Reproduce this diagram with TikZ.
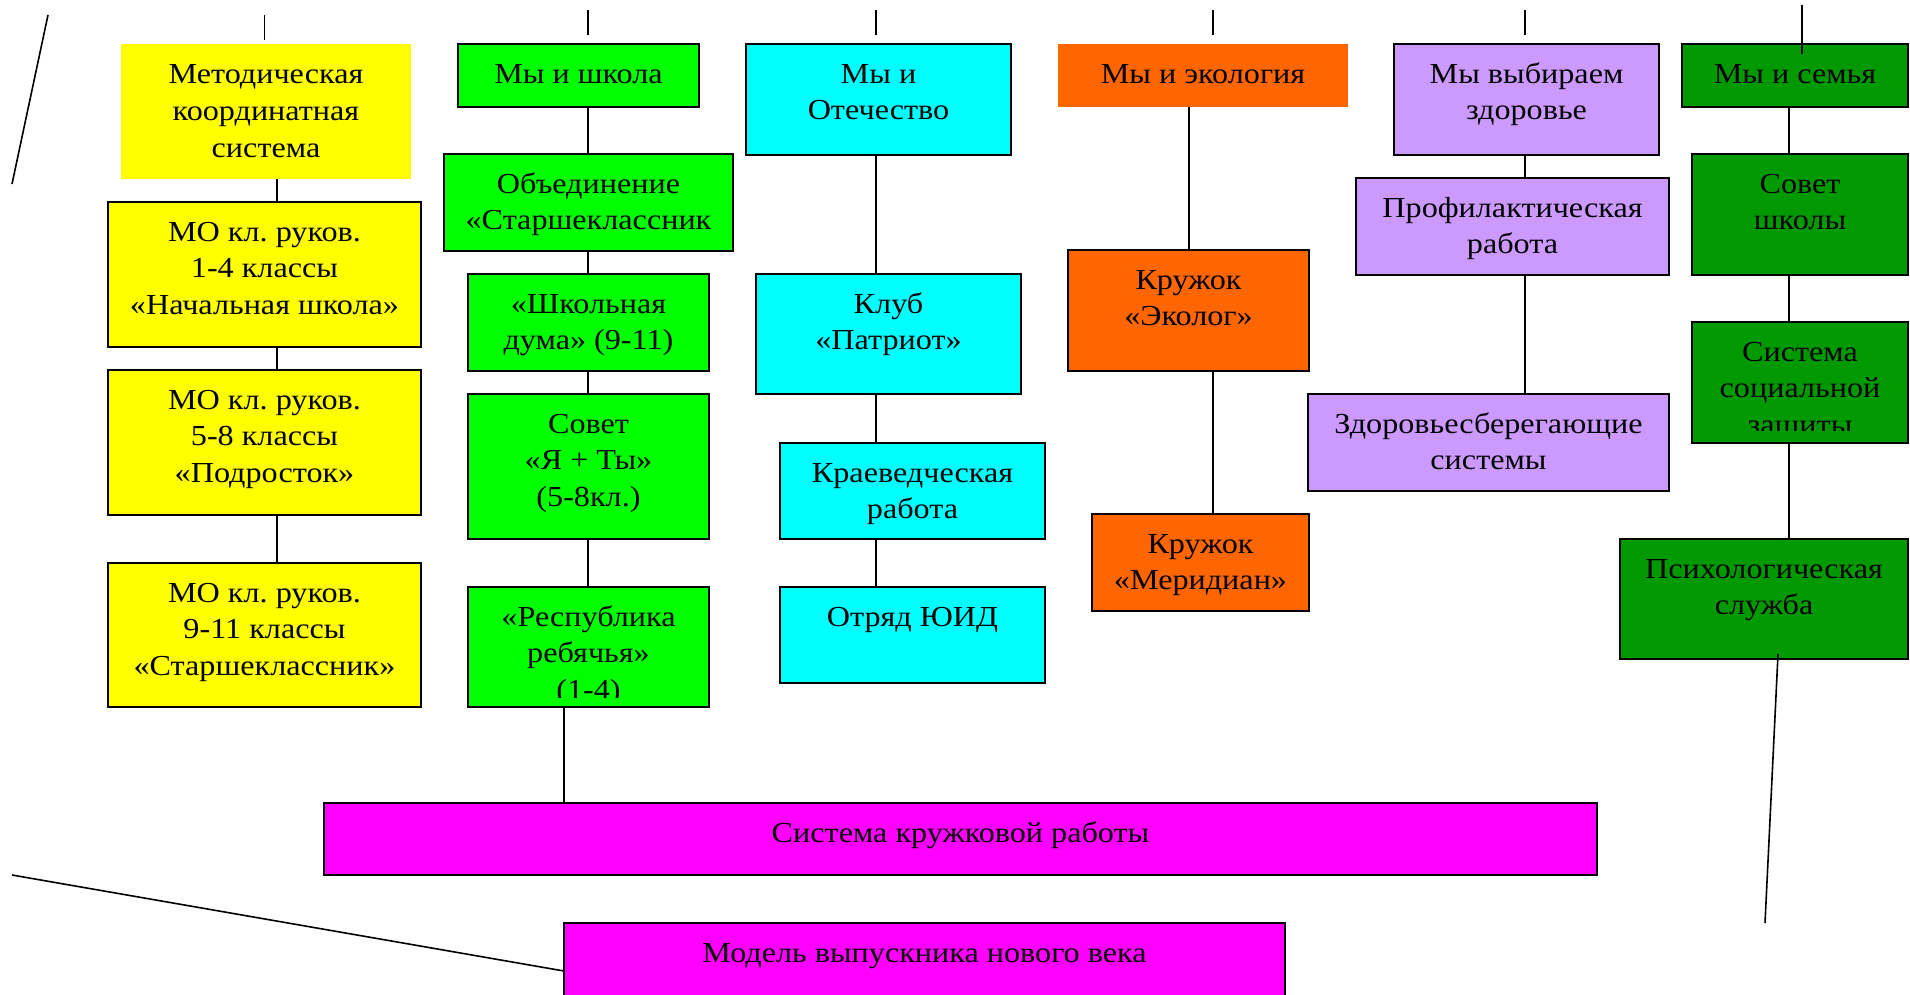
\documentclass[tikz,border=0pt]{standalone}
\usepackage{fontspec}
\setmainfont{Liberation Serif}[FakeStretch=1.11]
\frenchspacing
\definecolor{cyel}{HTML}{FFFF00}
\definecolor{cgrn}{HTML}{00FF00}
\definecolor{ccya}{HTML}{00FFFF}
\definecolor{cora}{HTML}{FF6600}
\definecolor{clav}{HTML}{CC99FF}
\definecolor{cdgr}{HTML}{009900}
\definecolor{cmag}{HTML}{FF00FF}
\tikzset{
  boxb/.style={draw=black, line width=2pt, rectangle, inner sep=0pt},
  boxn/.style={draw=none, rectangle, inner sep=0pt},
  yel/.style={boxb, fill=cyel}, yeln/.style={boxn, fill=cyel},
  grn/.style={boxb, fill=cgrn},
  cya/.style={boxb, fill=ccya},
  ora/.style={boxb, fill=cora}, oran/.style={boxn, fill=cora},
  lav/.style={boxb, fill=clav},
  dgr/.style={boxb, fill=cdgr},
  mag/.style={boxb, fill=cmag},
  txt/.style={font=\fontsize{29}{36.7}\selectfont\frenchspacing, align=center, inner sep=0pt, text=black},
  ln/.style={draw=black, line width=1.6pt}
}
% #1 name, #2 style, #3 x1, #4 y1, #5 x2, #6 y2, #7 text
\newcommand\bxnode[7]{%
  \node[#2, minimum width={(#5-#3)*1pt}, minimum height={(#6-#4)*1pt}] (#1) at ({(#3+#5)/2},{(#4+#6)/2}) {};
  \node[txt, anchor=north] (#1t) at ([yshift=-14.3pt]#1.north) {\strut #7};
}
% same, text clipped at y = #8
\newcommand\bxclip[8]{%
  \node[#2, minimum width={(#5-#3)*1pt}, minimum height={(#6-#4)*1pt}] (#1) at ({(#3+#5)/2},{(#4+#6)/2}) {};
  \begin{scope}
    \clip (#3,#4) rectangle (#5,#8);
    \node[txt, anchor=north] (#1t) at ([yshift=-14.3pt]#1.north) {\strut #7};
  \end{scope}
}
\begin{document}
\begin{tikzpicture}[x=1pt,y=-1pt]
\useasboundingbox (0,0) rectangle (1910,994);
\clip (0,0) rectangle (1910,994);

% column 1 (yellow)
\bxnode{b1}{yeln}{121}{44}{411}{179}{Методическая\\координатная\\система}
\bxnode{b2}{yel}{108}{202}{421}{347}{МО кл. руков.\\1-4 классы\\«Начальная школа»}
\bxnode{b3}{yel}{108}{370}{421}{515}{МО кл. руков.\\5-8 классы\\«Подросток»}
\bxnode{b4}{yel}{108}{563}{421}{707}{МО кл. руков.\\9-11 классы\\«Старшеклассник»}

% column 2 (green)
\bxnode{g1}{grn}{458}{44}{699}{107}{Мы и школа}
\bxnode{g2}{grn}{444}{154}{733}{251}{Объединение\\«Старшеклассник}
\bxnode{g3}{grn}{468}{274}{709}{371}{«Школьная\\дума» (9-11)}
\bxnode{g4}{grn}{468}{394}{709}{539}{Совет\\«Я + Ты»\\(5-8кл.)}
\bxclip{g5}{grn}{468}{587}{709}{707}{«Республика\\ребячья»\\(1-4)}{697}

% column 3 (cyan)
\bxnode{c1}{cya}{746}{44}{1011}{155}{Мы и\\Отечество}
\bxnode{c2}{cya}{756}{274}{1021}{394}{Клуб\\«Патриот»}
\bxnode{c3}{cya}{780}{443}{1045}{539}{Краеведческая\\работа}
\bxnode{c4}{cya}{780}{587}{1045}{683}{Отряд ЮИД}

% column 4 (orange)
\bxnode{o1}{oran}{1058}{44}{1348}{107}{Мы и экология}
\bxnode{o2}{ora}{1068}{250}{1309}{371}{Кружок\\«Эколог»}
\bxnode{o3}{ora}{1092}{514}{1309}{611}{Кружок\\«Меридиан»}

% column 5 (lavender)
\bxnode{l1}{lav}{1394}{44}{1659}{155}{Мы выбираем\\здоровье}
\bxnode{l2}{lav}{1356}{178}{1669}{275}{Профилактическая\\работа}
\bxnode{l3}{lav}{1308}{394}{1669}{491}{Здоровьесберегающие\\системы}

% column 6 (dark green)
\bxnode{d1}{dgr}{1682}{44}{1908}{107}{Мы и семья}
\bxnode{d2}{dgr}{1692}{154}{1908}{275}{Совет\\школы}
\bxclip{d3}{dgr}{1692}{322}{1908}{443}{Система\\социальной\\защиты}{430}
\bxnode{d4}{dgr}{1620}{539}{1908}{659}{Психологическая\\служба}

% bottom (magenta)
\bxnode{m1}{mag}{324}{803}{1597}{875}{Система кружковой работы}
\bxnode{m2}{mag}{564}{923}{1285}{1010}{Модель выпускника нового века}

% connector columns
\coordinate (k1) at (277,0);
\coordinate (k2) at (588,0);
\coordinate (k3) at (876,0);
\coordinate (k4a) at (1189,0);
\coordinate (k4b) at (1213,0);
\coordinate (k5) at (1525,0);
\coordinate (k6) at (1789,0);
\coordinate (k7) at (564,0);

\draw[ln] (b1.south -| k1) -- (b2.north -| k1);
\draw[ln] (b2.south -| k1) -- (b3.north -| k1);
\draw[ln] (b3.south -| k1) -- (b4.north -| k1);

\draw[ln] (g1.south -| k2) -- (g2.north -| k2);
\draw[ln] (g2.south -| k2) -- (g3.north -| k2);
\draw[ln] (g3.south -| k2) -- (g4.north -| k2);
\draw[ln] (g4.south -| k2) -- (g5.north -| k2);
\draw[ln] (g5.south -| k7) -- (m1.north -| k7);

\draw[ln] (c1.south -| k3) -- (c2.north -| k3);
\draw[ln] (c2.south -| k3) -- (c3.north -| k3);
\draw[ln] (c3.south -| k3) -- (c4.north -| k3);

\draw[ln] (o1.south -| k4a) -- (o2.north -| k4a);
\draw[ln] (o2.south -| k4b) -- (o3.north -| k4b);

\draw[ln] (l1.south -| k5) -- (l2.north -| k5);
\draw[ln] (l2.south -| k5) -- (l3.north -| k5);

\draw[ln] (d1.south -| k6) -- (d2.north -| k6);
\draw[ln] (d2.south -| k6) -- (d3.north -| k6);
\draw[ln] (d3.south -| k6) -- (d4.north -| k6);

% short ticks at the top
\coordinate (t1a) at (264.5,15); \coordinate (t1b) at (264.5,40);
\coordinate (t2a) at (588,10);   \coordinate (t2b) at (588,35);
\coordinate (t3a) at (876,10);   \coordinate (t3b) at (876,35);
\coordinate (t4a) at (1213,10);  \coordinate (t4b) at (1213,35);
\coordinate (t5a) at (1525,10);  \coordinate (t5b) at (1525,35);
\coordinate (t6a) at (1802,5);   \coordinate (t6b) at (1802,54);
\draw[ln] (t1a) -- (t1b);
\draw[ln] (t2a) -- (t2b);
\draw[ln] (t3a) -- (t3b);
\draw[ln] (t4a) -- (t4b);
\draw[ln] (t5a) -- (t5b);
\draw[ln] (t6a) -- (t6b);

% free slanted lines
\coordinate (s1a) at (48,15);   \coordinate (s1b) at (12,184);
\coordinate (s2a) at (12,875);  \coordinate (s2b) at (564,971);
\coordinate (s3a) at (1778,654); \coordinate (s3b) at (1765,923);
\draw[ln] (s1a) -- (s1b);
\draw[ln] (s2a) -- (s2b);
\draw[ln] (s3a) -- (s3b);
\end{tikzpicture}
\end{document}
